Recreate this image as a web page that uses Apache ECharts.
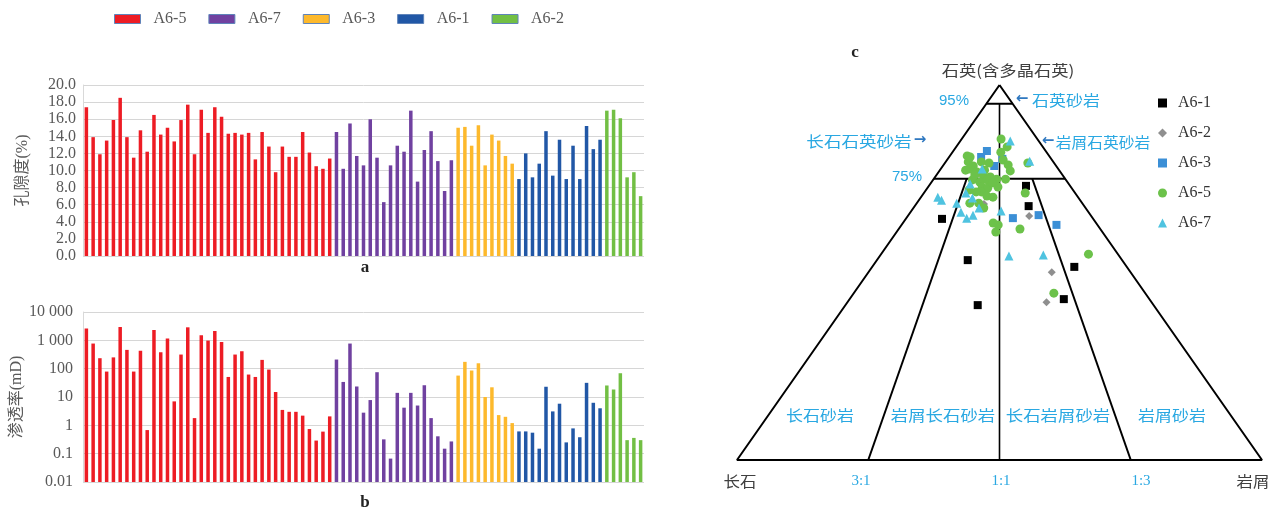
<!DOCTYPE html>
<html><head><meta charset="utf-8">
<script src="https://cdn.jsdelivr.net/npm/echarts@6/dist/echarts.min.js"></script>
<style>html,body{margin:0;padding:0;background:#fff}#c{width:1270px;height:511px}</style>
</head><body><div id="c"></div>
<script>
// ---------------- DATA ----------------
const groups = ['A6-5', 'A6-7', 'A6-3', 'A6-1', 'A6-2'];

const porosityA65 = [17.4,13.9,11.9,13.5,15.9,18.5,13.9,11.5,14.7,12.2,16.5,14.2,15.0,13.4,15.9,17.7,11.9,17.1,14.4,17.4,16.3,14.3,14.4,14.2,14.4,11.3,14.5,12.8,9.8,12.8,11.6,11.6,14.5,12.1,10.5,10.2,11.4];
const porosityA67 = [14.5,10.2,15.5,11.7,10.6,16.0,11.5,6.3,10.6,12.9,12.2,17.0,8.7,12.4,14.6,11.1,7.6,11.2];
const porosityA63 = [15.0,15.1,12.9,15.3,10.6,14.2,13.5,11.7,10.8];
const porosityA61 = [9.0,12.0,9.2,10.8,14.6,9.4,13.6,9.0,12.9,9.0,15.2,12.5,13.6];
const porosityA62 = [17.0,17.1,16.1,9.2,9.8,7.0];

const permA65 = [2600,770,234,79,250,2950,460,79,425,0.68,2320,380,1170,7.0,315,2880,1.8,1500,980,2140,870,51,315,412,62,51,204,93,15,3.5,3.0,3.0,2.2,0.74,0.29,0.6,2.07];
const permA67 = [210,34,770,23.5,2.8,7.8,75,0.32,0.067,14,4.2,14,5.0,26,1.8,0.41,0.15,0.27];
const permA63 = [57,174,86,155,10,22,2.3,2.0,1.2];
const permA61 = [0.61,0.61,0.55,0.15,23,3.1,5.8,0.25,0.78,0.38,31.6,6.25,4.0];
const permA62 = [25.5,18.4,69,0.30,0.36,0.30];

const porosityTickLabels = ['0.0','2.0','4.0','6.0','8.0','10.0','12.0','14.0','16.0','18.0','20.0'];
const permTickLabels = ['0.01','0.1','1','10','100','1 000','10 000'];

// QFR ternary points: [Q, F, R] (%)
const qfrA61 = [[73.1,8.4,18.5],[67.7,10.6,21.7],[64.3,28.8,6.9],[53.3,29.4,17.3],[51.5,10.0,38.5],[41.3,33.5,25.2],[42.9,16.3,40.8]];
const qfrA62 = [[68.3,18.8,12.9],[65.1,11.8,23.1],[50.1,15.0,34.9],[42.1,20.0,37.9]];
const qfrA63 = [[82.4,11.2,6.4],[80.8,13.1,6.1],[78.4,11.8,9.8],[80.3,9.3,10.4],[64.5,15.2,20.3],[65.3,9.9,24.8],[62.7,7.8,29.5]];
const qfrA65 = [[85.6,6.9,7.5],[83.5,6.8,9.7],[81.1,15.6,3.3],[79.5,16.2,4.3],[78.4,15.8,5.8],[79.5,13.7,6.8],[79.2,12.4,8.4],[80.0,9.3,10.7],[78.7,9.0,12.3],[77.1,9.4,13.5],[79.2,5.0,15.8],[77.6,16.8,5.6],[76.8,15.9,7.3],[76.0,15.1,8.9],[75.5,14.0,10.5],[74.9,13.1,12.0],[74.9,11.4,13.7],[74.7,17.8,7.5],[74.1,16.7,9.2],[74.7,15.0,10.3],[72.8,16.9,10.3],[72.5,16.0,11.5],[72.8,13.9,13.3],[71.5,17.7,10.8],[70.4,17.2,12.4],[70.1,16.2,13.7],[68.5,21.4,10.1],[68.5,19.7,11.8],[67.2,19.4,13.4],[76.0,16.7,7.3],[77.3,14.2,8.5],[73.9,14.4,11.7],[77.3,17.8,4.9],[71.5,18.7,9.8],[72.0,19.8,8.2],[71.2,9.5,19.3],[63.2,19.6,17.2],[62.7,18.9,18.4],[60.8,20.3,18.9],[61.6,15.3,23.1],[54.9,5.6,39.5],[44.5,17.4,38.1],[82.1,8.7,9.2],[80.8,15.2,4.0]];
const qfrA67 = [[85.1,5.4,9.5],[79.7,4.4,15.9],[73.6,18.8,7.6],[70.1,26.7,3.2],[69.3,26.4,4.3],[68.5,23.9,7.6],[71.2,20.8,8.0],[69.9,20.2,9.9],[66.1,24.3,9.6],[64.5,24.0,11.5],[65.3,22.4,12.3],[67.2,20.3,12.5],[66.4,16.5,17.1],[54.4,21.0,24.6],[54.7,14.3,31.0],[77.6,14.5,7.9]];

// classification frame (ternary [Q,F,R])
const frameTriangle = [[100,0,0],[0,100,0],[0,0,100],[100,0,0]];
const frameQ95 = [[95,5,0],[95,0,5]];
const frameQ75 = [[75,25,0],[75,0,25]];
const frameFR31 = [[75,18.75,6.25],[0,75,25]];
const frameFR11 = [[95,2.5,2.5],[0,50,50]];
const frameFR13 = [[75,6.25,18.75],[0,25,75]];

// ---------------- STYLE ----------------
const barColors = {'A6-5':'#ed1c24','A6-7':'#7041a0','A6-3':'#fdb92c','A6-1':'#2157a6','A6-2':'#72bf44'};
const serif = "'Liberation Serif','Noto Sans CJK SC',serif";
const cjk = "'Noto Sans CJK SC','Liberation Sans',sans-serif";
const labelBlue = '#2aa8e2';
const arrowBlue = '#2f78c0';

// ---------------- BUILD ----------------
const porosityBy = {'A6-5':porosityA65,'A6-7':porosityA67,'A6-3':porosityA63,'A6-1':porosityA61,'A6-2':porosityA62};
const permBy = {'A6-5':permA65,'A6-7':permA67,'A6-3':permA63,'A6-1':permA61,'A6-2':permA62};
const total = groups.reduce((s,g)=>s+porosityBy[g].length,0);
const categories = Array.from({length: total}, (_, i) => String(i + 1));

function padded(byGroup, g, fn) {
  const out = new Array(total).fill('-');
  let off = 0;
  for (const k of groups) {
    if (k === g) byGroup[k].forEach((v, i) => { out[off + i] = fn ? fn(v) : v; });
    off += byGroup[k].length;
  }
  return out;
}
const logShift = v => Math.log10(v) + 2; // 0.01 -> 0 on a linear axis labelled in decades

function toXY(p) {
  const s = p[0] + p[1] + p[2];
  const q = p[0] / s * 100, r = p[2] / s * 100;
  return [r + q / 2, q];
}

const series = [];
groups.forEach(g => {
  series.push({type:'bar', name:g, xAxisIndex:0, yAxisIndex:0, data:padded(porosityBy, g),
    barWidth:3.5, barGap:'-100%', itemStyle:{color:barColors[g]}, silent:true});
});
groups.forEach(g => {
  series.push({type:'bar', name:g, xAxisIndex:1, yAxisIndex:1, data:padded(permBy, g, logShift),
    barWidth:3.5, barGap:'-100%', itemStyle:{color:barColors[g]}, silent:true});
});
[frameTriangle, frameQ95, frameQ75, frameFR31, frameFR11, frameFR13].forEach((ln, i) => {
  series.push({type:'line', xAxisIndex:2, yAxisIndex:2, data:ln.map(toXY), symbol:'none', silent:true,
    clip:false, lineStyle:{color:'#000', width: i === 4 ? 1.6 : 2}, z:1});
});
const scatterDefs = [
  {name:'QFR A6-1', data:qfrA61, symbol:'rect', size:8, color:'#000000'},
  {name:'QFR A6-2', data:qfrA62, symbol:'diamond', size:8, color:'#8f8f8f'},
  {name:'QFR A6-3', data:qfrA63, symbol:'rect', size:8, color:'#3b8fd6'},
  {name:'QFR A6-5', data:qfrA65, symbol:'circle', size:9, color:'#6cc24a'},
  {name:'QFR A6-7', data:qfrA67, symbol:'triangle', size:9, color:'#4fc3e0'}
];
scatterDefs.forEach(d => {
  series.push({type:'scatter', name:d.name, xAxisIndex:2, yAxisIndex:2, data:d.data.map(toXY),
    symbol:d.symbol, symbolSize:d.size, itemStyle:{color:d.color, opacity:1}, silent:true, z:3});
});

function txt(text, x, y, opt) {
  opt = opt || {};
  return {type:'text', x:x, y:y, scaleX: opt.sx || 1, silent:true, z:10,
    style:{text:text, fill: opt.fill || '#333', fontSize: opt.size || 15, fontFamily: opt.font || cjk,
      fontWeight: opt.weight || 'normal', align: opt.align || 'center', verticalAlign:'middle'}};
}

const graphics = [
  txt('a', 365, 268, {font:serif, weight:'bold', size:17, fill:'#222'}),
  txt('b', 365, 503, {font:serif, weight:'bold', size:17, fill:'#222'}),
  txt('c', 855, 53, {font:serif, weight:'bold', size:17, fill:'#222'}),
  txt('石英(含多晶石英)', 1008, 70, {size:15, fill:'#404040', sx:1.15}),
  txt('95%', 954, 101, {size:15, fill:labelBlue, font:"'Liberation Sans',sans-serif"}),
  txt('75%', 907, 177, {size:15, fill:labelBlue, font:"'Liberation Sans',sans-serif"}),
  txt('长石石英砂岩', 859, 141, {size:15, fill:labelBlue, sx:1.17}),
  txt('→', 920, 140, {size:15, fill:arrowBlue, weight:'bold', font:"'DejaVu Sans',sans-serif"}),
  txt('←', 1022, 99, {size:15, fill:arrowBlue, weight:'bold', font:"'DejaVu Sans',sans-serif"}),
  txt('石英砂岩', 1066, 100, {size:15, fill:labelBlue, sx:1.13}),
  txt('←', 1048, 141, {size:15, fill:arrowBlue, weight:'bold', font:"'DejaVu Sans',sans-serif"}),
  txt('岩屑石英砂岩', 1103, 142, {size:15, fill:labelBlue, sx:1.05}),
  txt('长石砂岩', 820, 415, {size:15, fill:labelBlue, sx:1.13}),
  txt('岩屑长石砂岩', 943, 415, {size:15, fill:labelBlue, sx:1.16}),
  txt('长石岩屑砂岩', 1058, 415, {size:15, fill:labelBlue, sx:1.16}),
  txt('岩屑砂岩', 1172, 415, {size:15, fill:labelBlue, sx:1.13}),
  txt('长石', 740, 481, {size:15, fill:'#404040', sx:1.1}),
  txt('3:1', 861, 481, {size:15, fill:labelBlue, font:serif}),
  txt('1:1', 1001, 481, {size:15, fill:labelBlue, font:serif}),
  txt('1:3', 1141, 481, {size:15, fill:labelBlue, font:serif}),
  txt('岩屑', 1253, 481, {size:15, fill:'#404040', sx:1.1})
];

const axisLabelStyle = {color:'#595959', fontSize:16, fontFamily:serif};
const option = {
  animation:false,
  backgroundColor:'#ffffff',
  grid:[
    {left:83, top:85, width:561, height:171},
    {left:83, top:312, width:561, height:170},
    {left:737, top:85, width:525, height:375}
  ],
  xAxis:[
    {type:'category', gridIndex:0, data:categories, boundaryGap:true, axisLine:{show:false}, axisTick:{show:false}, axisLabel:{show:false}, splitLine:{show:false}},
    {type:'category', gridIndex:1, data:categories, boundaryGap:true, axisLine:{show:false}, axisTick:{show:false}, axisLabel:{show:false}, splitLine:{show:false}},
    {type:'value', gridIndex:2, min:0, max:100, show:false}
  ],
  yAxis:[
    {type:'value', gridIndex:0, min:0, max:20, interval:2,
      name:'孔隙度(%)', nameLocation:'middle', nameGap:52, nameRotate:90,
      nameTextStyle:{color:'#595959', fontSize:16, fontFamily:serif},
      axisLine:{show:true, lineStyle:{color:'#d9d9d9', width:1}}, axisTick:{show:false},
      axisLabel:Object.assign({margin:7, formatter:v => porosityTickLabels[Math.round(v / 2)]}, axisLabelStyle),
      splitLine:{lineStyle:{color:'#d6d6d6', width:1}}},
    {type:'value', gridIndex:1, min:0, max:6, interval:1,
      name:'渗透率(mD)', nameLocation:'middle', nameGap:58, nameRotate:90,
      nameTextStyle:{color:'#595959', fontSize:16, fontFamily:serif},
      axisLine:{show:true, lineStyle:{color:'#d9d9d9', width:1}}, axisTick:{show:false},
      axisLabel:Object.assign({margin:10, formatter:v => permTickLabels[Math.round(v)]}, axisLabelStyle),
      splitLine:{lineStyle:{color:'#d6d6d6', width:1}}},
    {type:'value', gridIndex:2, min:0, max:100, show:false}
  ],
  legend:[
    {data:groups, left:109, top:6, orient:'horizontal', icon:'rect', itemWidth:26, itemHeight:9, itemGap:22,
      itemStyle:{borderColor:'#5f84ba', borderWidth:1},
      textStyle:{color:'#595959', fontSize:16, fontFamily:serif, padding:[0,0,0,8]}, selectedMode:false},
    {data:scatterDefs.map(d => d.name), left:1153, top:90, orient:'vertical', itemWidth:9, itemHeight:9, itemGap:14,
      formatter:n => n.replace('QFR ', ''),
      textStyle:{color:'#333', fontSize:16, fontFamily:serif, padding:[0,0,0,6]}, selectedMode:false}
  ],
  series:series,
  graphic:graphics
};
const chart = echarts.init(document.getElementById('c'));
chart.setOption(option);
</script>
</body></html>
